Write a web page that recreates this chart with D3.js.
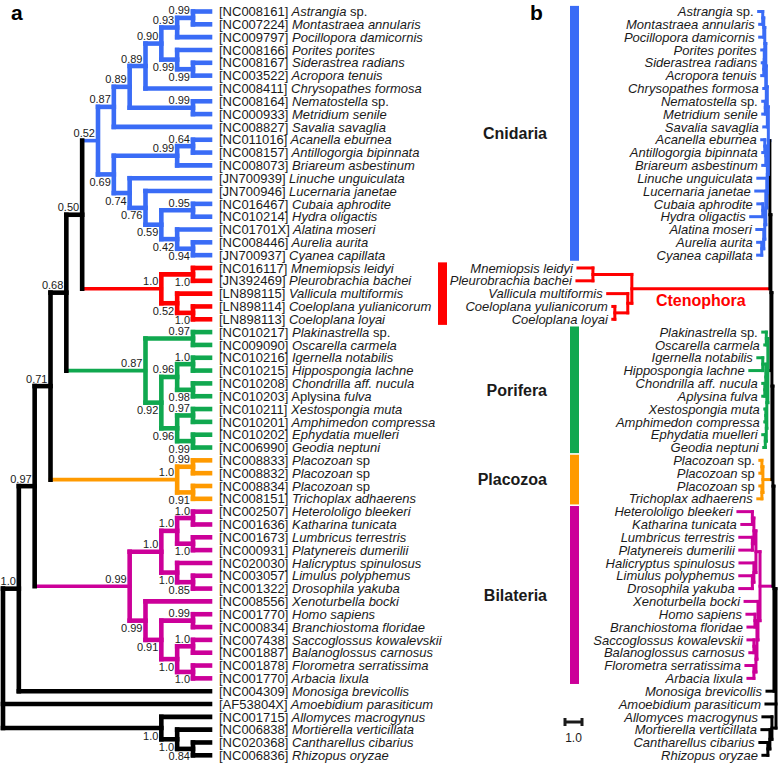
<!DOCTYPE html>
<html><head><meta charset="utf-8">
<script src="https://cdn.jsdelivr.net/npm/d3@7"></script>
<style>
body{margin:0;background:#fff}
svg{display:block}
text{font-family:"Liberation Sans",Arial,Helvetica,sans-serif;white-space:pre}
</style>
</head><body>
<svg id="chart" width="778" height="763"></svg>
<script>
// ---------------- DATA ----------------
const accessions = ["NC008161","NC007224","NC009797","NC008166","NC008167","NC003522","NC008411","NC008164","NC000933","NC008827",
 "NC011016","NC008157","NC008073","JN700939","JN700946","NC016467","NC010214","NC01701X","NC008446","JN700937",
 "NC016117","JN392469","LN898115","LN898114","LN898113",
 "NC010217","NC009090","NC010216","NC010215","NC010208","NC010203","NC010211","NC010201","NC010202","NC006990",
 "NC008833","NC008832","NC008834","NC008151",
 "NC002507","NC001636","NC001673","NC000931","NC020030","NC003057","NC001322","NC008556","NC001770","NC000834",
 "NC007438","NC001887","NC001878","NC001770",
 "NC004309","AF53804X","NC001715","NC006838","NC020368","NC006836"];
const species = ["Astrangia sp.","Montastraea annularis","Pocillopora damicornis","Porites porites","Siderastrea radians","Acropora tenuis",
 "Chrysopathes formosa","Nematostella sp.","Metridium senile","Savalia savaglia","Acanella eburnea","Antillogorgia bipinnata",
 "Briareum asbestinum","Linuche unguiculata","Lucernaria janetae","Cubaia aphrodite","Hydra oligactis","Alatina moseri",
 "Aurelia aurita","Cyanea capillata",
 "Mnemiopsis leidyi","Pleurobrachia bachei","Vallicula multiformis","Coeloplana yulianicorum","Coeloplana loyai",
 "Plakinastrella sp.","Oscarella carmela","Igernella notabilis","Hippospongia lachne","Chondrilla aff. nucula","Aplysina fulva",
 "Xestospongia muta","Amphimedon compressa","Ephydatia muelleri","Geodia neptuni",
 "Placozoan sp","Placozoan sp","Placozoan sp","Trichoplax adhaerens",
 "Heterololigo bleekeri","Katharina tunicata","Lumbricus terrestris","Platynereis dumerilii","Halicryptus spinulosus",
 "Limulus polyphemus","Drosophila yakuba","Xenoturbella bocki","Homo sapiens","Branchiostoma floridae",
 "Saccoglossus kowalevskii","Balanoglossus carnosus","Florometra serratissima","Arbacia lixula",
 "Monosiga brevicollis","Amoebidium parasiticum","Allomyces macrogynus","Mortierella verticillata",
 "Cantharellus cibarius","Rhizopus oryzae"];
const speciesBOverrides = {35: "Placozoan sp."};
const uprightWordsA = ["sp.","sp","Aplysina"];
const uprightWordsB = ["sp.","sp"];

// topology (leaf = index), support values, panel-b branch lengths (units of scale bar)
const hexacorallia = "((((((0:0.24,1:0.18)0.99:0.06,2:0.24)0.93:0.06,(3:0.15,(4:0.09,5:0.12)0.99:0.03)0.99:0.03)0.90:0.06,6:0.12)0.89:0.03,(7:0.15,8:0.15)0.99^:0.06)0.89:0.06,9:0.21)0.87:0.06";
const octoMedusozoa = "(((10:0.18,11:0.12)0.64:0.06,12:0.18)0.99:0.09,(13:0.53,(14:0.59,((15:0.29,16:0.71)0.95:0.12,(17:0.41,(18:0.24,19:0.24)0.94:0.12)0.42:0.06)0.59:0.06)0.76:0.06)0.74:0.03)0.69:0.06";
const cnidaria = `(${hexacorallia},${octoMedusozoa})0.52:0.09`;
const ctenophora = "((20:0.88,21:0.94)1.0_:2.29,(22:1.18,(23:0.12,24:0.12)1.0:0.76)0.52:0.24)1.0^:8.12";
const porifera = "((25:0.21,26:0.09)0.97:0.09,(((27:0.29,28:0.76)1.0:0.18,(29:0.12,30:0.12)0.98:0.06)0.96:0.06,((31:0.06,32:0.06)0.97:0.03,(33:0.15,34:0.09)0.99:0.06)0.96:0.03)0.92:0.06)0.87^:0.18";
const placozoa = "((35:0.12,36:0.12)0.99:0.06,(37:0.12,38:0.24)0.91:0.06)1.0^:0.53";
const protostomia = "(((39:0.85,40:0.62)1.0:0.09,(41:0.74,42:0.74)1.0:0.09)1.0:0.12,(43:0.82,(44:0.74,45:0.74)0.85:0.09)1.0:0.12)1.0:0.24";
const deuterostomia = "(46:0.76,((47:0.47,48:0.41)0.99:0.12,((49:0.35,50:0.24)1.0:0.12,(51:0.47,52:0.35)1.0:0.12)1.0:0.06)0.91:0.06)0.99:0.12";
const bilateria = `(${protostomia},${deuterostomia})0.99^:0.76`;
const fungi = "(55:0.53,(56:0.47,(57:0.47,58:0.29)0.84:0.12)1.0:0.12)1.0:0.24";
const newick = `((((((${cnidaria},${ctenophora})0.50:0.06,${porifera})0.68:0.06,${placozoa})0.71:0.06,${bilateria})0.97:0.06,53:0.41)1.0:0.12,54:0.59,${fungi});`;

const cladeNames  = ["Cnidaria","Ctenophora","Porifera","Placozoa","Bilateria"];
const cladeColors = ["#3a6cf6","#ff0000","#10a84f","#ff9a00","#cc0099"];
const cladeFirst  = [0,20,25,35,39];
const cladeLast   = [19,24,34,38,52];
const scaleBarValue = 1.0;

// ---------------- PARSE ----------------
function parseNewick(s){
  let i=0;
  function node(){
    const n={children:null,label:"",len:0};
    if(s[i]==="("){
      i++; n.children=[];
      n.children.push(node());
      while(s[i]===","){ i++; n.children.push(node()); }
      i++;
    }
    let lab=""; while(i<s.length && !":,);".includes(s[i])) lab+=s[i++];
    n.label=lab;
    if(s[i]===":"){ i++; let l=""; while(i<s.length && !",);".includes(s[i])) l+=s[i++]; n.len=+l; }
    return n;
  }
  return node();
}
const root = d3.hierarchy(parseNewick(newick), d=>d.children);
const nLeaves = species.length;
const y = d3.scaleLinear().domain([0,nLeaves-1]).range([11.5,755.3]);
const step = y(1)-y(0);

root.eachAfter(n=>{
  if(!n.children){ n.idx=+n.data.label; n.r=0; n.yy=y(n.idx); n.lo=n.hi=n.idx; }
  else{
    n.r=d3.max(n.children,c=>c.r)+1;
    n.yy=(n.children[0].yy+n.children[n.children.length-1].yy)/2;
    n.lo=d3.min(n.children,c=>c.lo); n.hi=d3.max(n.children,c=>c.hi);
  }
});
root.eachBefore(n=>{ n.dist=(n.parent?n.parent.dist:0)+(n.parent?n.data.len:0); });
root.each(n=>{
  const k=cladeNames.findIndex((c,i)=>n.lo>=cladeFirst[i]&&n.hi<=cladeLast[i]);
  n.color = k>=0 ? cladeColors[k] : "#000";
  n.clade = k;
});

const svg=d3.select("#chart");
const ink="#1a1a1a";

// ---------------- PANEL A (cladogram) ----------------
const xa=d3.scaleLinear().domain([0,1,root.r]).range([210,193,3]);
const gA=svg.append("g");
function drawTree(g,xf,w,wStem){
  root.descendants().forEach(n=>{
    if(n.parent){
      const stem = n.parent.clade<0 && n.clade>=0 && n.children;
      g.append("line").attr("x1",xf(n.parent)).attr("x2",xf(n)).attr("y1",n.yy).attr("y2",n.yy)
        .attr("stroke",n.color).attr("stroke-width",stem?wStem:w).attr("stroke-linecap","square");
    }
  });
  root.descendants().forEach(n=>{
    if(n.children){
      g.append("line").attr("x1",xf(n)).attr("x2",xf(n))
        .attr("y1",n.children[0].yy).attr("y2",n.children[n.children.length-1].yy)
        .attr("stroke",n.color).attr("stroke-width",w).attr("stroke-linecap","square");
    }
  });
}
drawTree(gA,n=>xa(n.r),4.6,3.6);

// support values
root.descendants().forEach(n=>{
  if(!n.children||!n.parent||!n.data.label) return;
  const lab=n.data.label;
  const val=lab.replace(/[\^_]/g,"");
  let above = n.parent.children.indexOf(n)===0;
  if(lab.includes("^")) above=true;
  if(lab.includes("_")) above=false;
  gA.append("text").attr("x",xa(n.r)-3).attr("y",above?n.yy-3.5:n.yy+11.5)
    .attr("text-anchor","end").attr("font-size",11).attr("fill",ink).text(val);
});

function nameParts(name,upright){
  return name.split(" ").map(w=>({t:w,it:!upright.includes(w)}));
}
root.leaves().forEach(n=>{
  const t=gA.append("text").attr("x",219).attr("y",n.yy).attr("dy","0.36em")
    .attr("font-size",13).attr("fill",ink);
  t.append("tspan").text("["+accessions[n.idx]+"]");
  nameParts(species[n.idx],uprightWordsA).forEach(p=>{
    t.append("tspan").attr("font-style",p.it?"italic":"normal").text(" "+p.t);
  });
});
svg.append("text").attr("x",11).attr("y",20).attr("font-size",21).attr("font-weight","bold").text("a");

// ---------------- PANEL B (phylogram) ----------------
const xb=d3.scaleLinear().domain([0,scaleBarValue]).range([776,759]);
const gB=svg.append("g");
drawTree(gB,n=>xb(n.dist),3,3);
root.leaves().forEach(n=>{
  const nm = speciesBOverrides[n.idx] || species[n.idx];
  const t=gB.append("text").attr("x",xb(n.dist)-5).attr("y",n.yy).attr("dy","0.36em")
    .attr("text-anchor","end").attr("font-size",13).attr("fill",ink);
  nameParts(nm,uprightWordsB).forEach((p,i)=>{
    t.append("tspan").attr("font-style",p.it?"italic":"normal").text((i?" ":"")+p.t);
  });
});
svg.append("text").attr("x",530).attr("y",20).attr("font-size",21).attr("font-weight","bold").text("b");

// clade bars & names
cladeNames.forEach((c,i)=>{
  const top=y(cladeFirst[i])-step/2+0.8, bot=y(cladeLast[i])+step/2-0.8;
  const isCten = c==="Ctenophora";
  gB.append("rect").attr("x",isCten?438:570).attr("y",top).attr("width",9).attr("height",bot-top)
    .attr("fill",cladeColors[i]);
  if(isCten){
    const node=root.descendants().find(n=>n.clade===i&&n.parent&&n.parent.clade<0);
    gB.append("text").attr("x",(xb(node.dist)+xb(node.parent.dist))/2).attr("y",node.yy+17.5)
      .attr("text-anchor","middle").attr("font-size",16).attr("font-weight","bold").attr("fill",cladeColors[i]).text(c);
  } else {
    gB.append("text").attr("x",547).attr("y",(top+bot)/2).attr("dy","0.36em")
      .attr("text-anchor","end").attr("font-size",16).attr("font-weight","bold").attr("fill",ink).text(c);
  }
});

// scale bar
const sbY=722, sbX0=565, sbLen=xb(0)-xb(scaleBarValue);
const sb=gB.append("g").attr("stroke",ink).attr("stroke-width",3);
sb.append("line").attr("x1",sbX0).attr("x2",sbX0+sbLen).attr("y1",sbY).attr("y2",sbY);
sb.append("line").attr("x1",sbX0).attr("x2",sbX0).attr("y1",sbY-4).attr("y2",sbY+4);
sb.append("line").attr("x1",sbX0+sbLen).attr("x2",sbX0+sbLen).attr("y1",sbY-4).attr("y2",sbY+4);
gB.append("text").attr("x",sbX0+sbLen/2).attr("y",742).attr("text-anchor","middle").attr("font-size",12)
  .attr("fill",ink).text(d3.format(".1f")(scaleBarValue));
</script>
</body></html>
